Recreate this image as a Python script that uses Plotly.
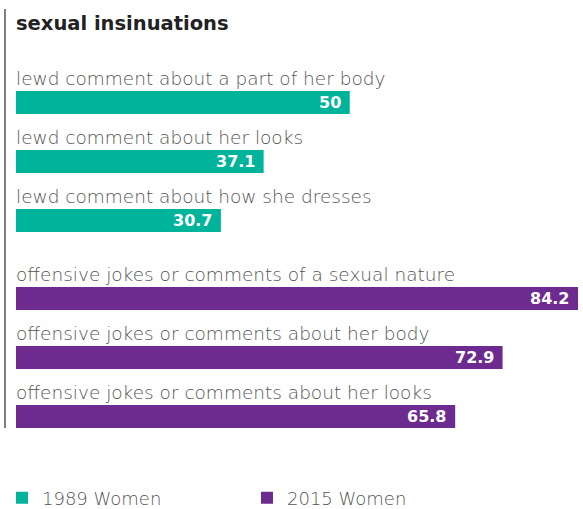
import plotly.graph_objects as go

categories = [
    "lewd comment about a part of her body",
    "lewd comment about her looks",
    "lewd comment about how she dresses",
    "offensive jokes or comments of a sexual nature",
    "offensive jokes or comments about her body",
    "offensive jokes or comments about her looks",
]
values = [50, 37.1, 30.7, 84.2, 72.9, 65.8]
series = ["1989 Women", "1989 Women", "1989 Women",
          "2015 Women", "2015 Women", "2015 Women"]
series_names = ["1989 Women", "2015 Women"]
title = "sexual insinuations"

colors = {"1989 Women": "#00b49b", "2015 Women": "#6e2b8f"}
FONT = "DejaVu Sans"
W, H = 583, 509
B = 30  # bottom margin, room for the legend
PH = H - B

# vertical slot for each bar (pixel-like units, y axis reversed)
pos = [102.5 + 59 * i + (19 if i >= 3 else 0) for i in range(len(categories))]

fig = go.Figure()
for name in series_names:
    idx = [i for i, s in enumerate(series) if s == name]
    fig.add_trace(go.Bar(
        x=[values[i] for i in idx],
        y=[pos[i] for i in idx],
        orientation="h",
        width=23,
        name=name,
        marker=dict(color=colors[name], line=dict(width=0)),
        hoverinfo="skip",
    ))

annotations = []
for i, cat in enumerate(categories):
    annotations.append(dict(
        x=0, y=pos[i] - 24, xref="x", yref="y", text=cat,
        showarrow=False, xanchor="left", yanchor="middle", xshift=-2,
        font=dict(family=FONT, size=18.5, color="#555555", weight=300),
    ))
    annotations.append(dict(
        x=values[i], y=pos[i], xref="x", yref="y", text=f"{values[i]:g}",
        showarrow=False, xanchor="right", yanchor="middle", xshift=-7,
        font=dict(family=FONT, size=16, color="white", weight="bold"),
    ))
annotations.append(dict(
    x=0, y=23, xref="x", yref="y", text=title, showarrow=False,
    xanchor="left", yanchor="middle", xshift=-2,
    font=dict(family=FONT, size=19.5, color="#222222", weight=600),
))

fig.update_layout(
    width=W, height=H,
    margin=dict(l=16, r=5, t=0, b=B, autoexpand=False),
    paper_bgcolor="white", plot_bgcolor="white",
    barmode="overlay",
    xaxis=dict(range=[0, 84.2], visible=False, fixedrange=True),
    yaxis=dict(range=[PH, 0], visible=False, fixedrange=True),
    annotations=annotations,
    shapes=[dict(type="line", xref="paper", yref="y", x0=-11 / 562, x1=-11 / 562,
                 y0=9, y1=428, line=dict(color="#555555", width=1.5))],
    legend=dict(orientation="h", x=-14 / 562, y=-(498 - PH) / PH, xanchor="left",
                yanchor="middle", entrywidth=200, entrywidthmode="pixels",
                font=dict(family=FONT, size=18, color="#555555", weight=300),
                itemclick=False, itemdoubleclick=False),
    showlegend=True,
)

# browser default body margin would shift the chart by 8px
fig.write_html("out.html", config={"displayModeBar": False},
               post_script="document.body.style.margin='0';")
